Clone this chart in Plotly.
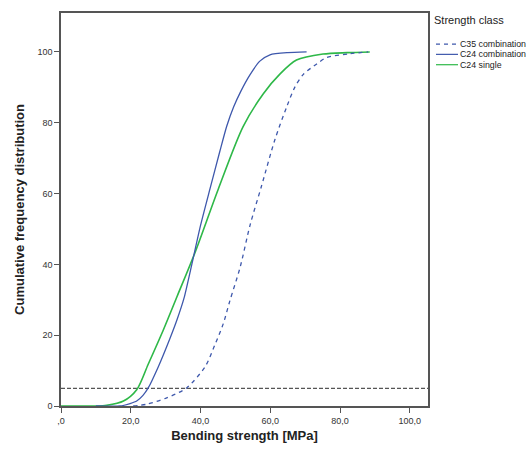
import plotly.graph_objects as go

# C24 combination (solid blue)
c24c_x = [10.0, 16.9, 19.8, 21.7, 23.5, 25.0, 27.9, 31.2, 33.3, 35.3, 37.5, 40.0, 42.7, 45.5, 47.5, 49.5, 51.5, 54.2, 57.0, 59.9, 65.0, 70.4]
c24c_y = [0.0, 0.0, 0.7, 1.4, 3.0, 5.1, 11.1, 19.0, 24.5, 30.6, 40.0, 51.0, 61.3, 71.8, 79.0, 84.5, 88.8, 93.6, 97.4, 99.2, 99.8, 100.0]

# C24 single (solid green)
c24s_x = [0.0, 10.0, 13.1, 17.9, 21.7, 25.0, 29.3, 33.3, 38.4, 45.1, 52.2, 58.0, 62.8, 67.5, 75.1, 82.0, 88.5]
c24s_y = [0.0, 0.0, 0.2, 1.4, 4.6, 11.8, 21.4, 31.0, 43.3, 61.3, 78.9, 88.2, 93.8, 97.7, 99.4, 99.8, 100.0]

# C35 combination (dashed blue)
c35c_x = [20.7, 24.6, 30.3, 36.0, 41.3, 44.0, 46.5, 48.4, 51.3, 54.2, 57.5, 61.3, 64.7, 67.0, 69.4, 73.3, 76.1, 82.8, 88.0]
c35c_y = [0.0, 0.5, 2.3, 5.1, 11.1, 17.0, 23.2, 29.7, 39.0, 51.1, 62.2, 75.2, 84.5, 90.0, 93.6, 96.6, 98.4, 99.5, 100.0]

ref_level = 5
x_ticks = [0, 20, 40, 60, 80, 100]
x_ticktext = [",0", "20,0", "40,0", "60,0", "80,0", "100,0"]
y_ticks = [0, 20, 40, 60, 80, 100]

BLUE = "#3E58AC"
GREEN = "#2EB848"
FONT = "Liberation Sans, Arial, sans-serif"

fig = go.Figure()
fig.add_trace(go.Scatter(x=[0, 105.2], y=[ref_level, ref_level], mode="lines",
                         line=dict(color="#555555", width=1.3, dash="4px,2px"),
                         showlegend=False, hoverinfo="skip"))
fig.add_trace(go.Scatter(x=c24s_x, y=c24s_y, mode="lines", name="C24 single",
                         line=dict(color=GREEN, width=1.6, shape="spline", smoothing=0.8),
                         showlegend=False))
fig.add_trace(go.Scatter(x=c24c_x, y=c24c_y, mode="lines", name="C24 combination",
                         line=dict(color=BLUE, width=1.3, shape="spline", smoothing=0.6),
                         showlegend=False))
fig.add_trace(go.Scatter(x=c35c_x, y=c35c_y, mode="lines", name="C35 combination",
                         line=dict(color=BLUE, width=1.3, dash="4px,4px", shape="spline", smoothing=0.8),
                         showlegend=False))

# Manual legend (paper coordinates)
W, H = 528, 452
ml, mr, mt, mb = 61, 100, 11, 42
pw, ph = W - ml - mr, H - mt - mb
def px(xp): return (xp - ml) / pw
def py(yp): return 1 - (yp - mt) / ph

shapes = []
annotations = [dict(text="Strength class", x=px(432), y=py(18), xref="paper", yref="paper",
                    xanchor="left", yanchor="middle", showarrow=False,
                    font=dict(family=FONT, size=11, color="#222222"))]
legend_items = [("C35 combination", BLUE, "4px,4px"), ("C24 combination", BLUE, "solid"), ("C24 single", GREEN, "solid")]
for i, (name, col, dash) in enumerate(legend_items):
    yp = 42.5 + i * 10.5
    shapes.append(dict(type="line", xref="paper", yref="paper", x0=px(436), x1=px(458),
                       y0=py(yp), y1=py(yp), line=dict(color=col, width=1.2, dash=dash)))
    annotations.append(dict(text=name, x=px(458), y=py(yp), xref="paper", yref="paper",
                            xanchor="left", yanchor="middle", showarrow=False,
                            font=dict(family=FONT, size=8.8, color="#222222")))

fig.update_layout(
    width=W, height=H,
    margin=dict(l=ml, r=mr, t=mt, b=mb),
    paper_bgcolor="white", plot_bgcolor="white",
    font=dict(family=FONT, color="#333333"),
    shapes=shapes, annotations=annotations,
    showlegend=False,
    xaxis=dict(range=[0, 105.2], tickvals=x_ticks, ticktext=x_ticktext,
               showgrid=False, zeroline=False, showline=True, linecolor="#555555",
               linewidth=1.5, mirror=True, ticks="outside", ticklen=5, tickwidth=1.3,
               tickcolor="#555555", tickfont=dict(size=9, color="#333333"),
               title=dict(text="<b>Bending strength [MPa]</b>", standoff=6,
                          font=dict(size=13, color="#222222"))),
    yaxis=dict(range=[0, 111], tickvals=y_ticks,
               showgrid=False, zeroline=False, showline=True, linecolor="#555555",
               linewidth=1.5, mirror=True, ticks="outside", ticklen=5, tickwidth=1.3,
               tickcolor="#555555", tickfont=dict(size=9, color="#333333"),
               title=dict(text="<b>Cumulative frequency distribution</b>", standoff=10,
                          font=dict(size=13, color="#222222"))),
)

fig.write_html("out.html")
